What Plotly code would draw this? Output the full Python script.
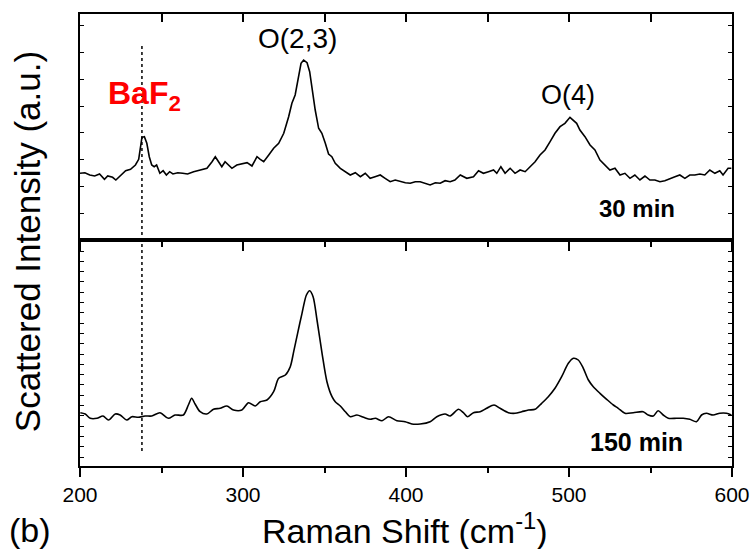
import plotly.graph_objects as go

# ---- data ----
shift_30 = [200, 203, 206, 209, 212, 215, 217, 220, 222, 225, 228, 231, 234, 236, 237, 238, 239.5, 241,
            242.5, 244, 245.5, 247, 249, 251, 253, 255, 257, 260, 263, 266, 269.7, 273.8, 277.9, 281, 283,
            285, 287, 289, 291, 293.2, 296.2, 299.3, 302.5, 305.5, 308.6, 310.6, 312.7, 315.8, 318.8, 321.9,
            325, 328, 330, 332, 334, 335.6, 337.2, 339.3, 340.9, 342.5, 344.3, 346.4, 348.4, 350.5, 352.5,
            354.5, 356.6, 359.7, 362.8, 365.8, 368.9, 372, 375, 378, 381, 384.2, 387.2, 390.3, 393.4, 396.5,
            399.6, 402.6, 405.7, 408.7, 411.8, 414.8, 418, 421, 424, 427.1, 430, 433.3, 437.3, 441.4, 444.5,
            447.5, 450.6, 453.7, 455.7, 458.2, 460.8, 463.9, 466.9, 470, 473.1, 476.1, 479.2, 482.2, 485.3,
            488.4, 491.4, 494.5, 497.5, 500.6, 502.7, 504.7, 506.7, 509.8, 512.9, 515.9, 519, 522, 525.1,
            528.2, 531.3, 534.3, 537.4, 540.4, 543.5, 546.6, 549.6, 552.7, 555.8, 558.8, 561.9, 565, 568,
            571.1, 574.1, 577.2, 580.3, 583.3, 586.4, 589.5, 592.5, 594.5, 597.6, 599.6]
intensity_30 = [66.7, 67.3, 65.0, 64.0, 66.0, 60.7, 64.0, 62.7, 60.0, 65.0, 69.3, 70.7, 75.0, 80.7, 93.3,
                102.7, 103.3, 96.7, 83.3, 75.0, 73.3, 75.0, 66.7, 69.3, 65.0, 68.3, 66.0, 67.3, 66.7, 66.0,
                68.3, 70.0, 71.7, 78.3, 83.3, 78.3, 73.3, 78.3, 75.0, 71.7, 75.0, 76.0, 77.3, 74.0, 83.3,
                80.7, 78.3, 85.0, 91.7, 96.7, 106.7, 123.3, 136.7, 145.0, 163.3, 176.7, 180.0, 177.3, 168.3,
                150.0, 130.0, 111.7, 106.7, 96.7, 86.0, 83.3, 76.7, 71.7, 68.3, 65.0, 67.3, 63.3, 66.7, 61.7,
                63.3, 65.0, 61.7, 58.3, 60.0, 58.3, 57.3, 56.7, 58.3, 58.3, 56.7, 55.0, 57.3, 56.7, 59.3,
                58.3, 60.0, 65.0, 61.7, 63.3, 69.3, 66.7, 68.3, 70.0, 66.7, 73.3, 66.7, 71.7, 66.7, 70.0,
                68.3, 73.3, 78.3, 85.0, 90.0, 98.3, 106.7, 113.3, 116.7, 122.7, 120.0, 116.7, 110.0, 103.3,
                95.0, 90.0, 80.0, 75.0, 70.0, 71.7, 65.0, 66.7, 61.7, 65.0, 60.0, 64.0, 60.0, 60.0, 58.3,
                59.3, 61.7, 63.3, 65.0, 61.7, 65.0, 65.0, 66.0, 65.0, 70.0, 66.7, 69.3, 65.0, 71.7, 71.7]

shift_150 = [200.2, 203.2, 206.3, 210.4, 214.1, 217.5, 221.6, 224.6, 228.7, 231.8, 235.8, 239.9, 244, 249.1,
             254.2, 258.3, 263.4, 266.5, 268.5, 270.6, 273.7, 277.8, 281.9, 286, 290.1, 294.2, 299.3, 303.4,
             307.5, 310.6, 314.7, 318.8, 321.9, 326, 329, 331.1, 333.5, 336.2, 338.9, 340.9, 343, 345.4,
             348.5, 351.5, 354.6, 356.6, 359.7, 362.8, 365.8, 369.9, 374, 378.1, 381.2, 385.3, 389.3, 394.4,
             399.5, 403.6, 408.7, 414.8, 418.9, 424, 427.1, 432.2, 435.2, 437.7, 441.4, 445.5, 449.5, 454,
             457.7, 462.8, 466.9, 471, 475.1, 479.2, 483.2, 487.3, 491.4, 495.5, 499.6, 502.7, 505.7, 508.8,
             511.9, 514.9, 519, 523.1, 527.2, 530.2, 534.3, 539.4, 545.5, 548.6, 551.7, 554.7, 557.8, 560.9,
             566, 570.1, 574.1, 578.2, 581.3, 584.3, 588.4, 592.5, 596.6, 599.6]
intensity_150 = [53.3, 52.0, 47.7, 47.7, 50.0, 46.0, 52.0, 51.0, 46.0, 49.3, 48.7, 50.0, 50.0, 53.3, 47.7,
                 51.0, 51.0, 61.0, 67.7, 62.0, 54.3, 52.0, 56.7, 57.7, 60.0, 56.0, 56.0, 63.3, 60.0, 64.3,
                 66.0, 74.3, 87.7, 91.0, 99.3, 114.3, 132.7, 152.7, 171.0, 175.3, 169.3, 146.0, 112.7, 84.3,
                 69.3, 64.3, 60.0, 54.3, 49.3, 51.0, 48.7, 46.7, 47.7, 45.3, 49.3, 45.3, 44.3, 42.0, 42.0,
                 44.3, 49.3, 52.0, 50.0, 56.7, 53.3, 49.3, 53.3, 54.3, 57.7, 61.0, 57.7, 53.3, 52.7, 54.3,
                 56.0, 56.7, 62.7, 69.3, 77.7, 89.3, 102.7, 107.7, 106.0, 97.7, 86.0, 79.3, 72.7, 66.7, 61.0,
                 57.7, 52.7, 53.3, 54.3, 51.0, 50.0, 55.3, 51.0, 47.7, 47.7, 47.7, 46.7, 44.3, 51.0, 52.7,
                 51.0, 52.7, 52.7, 51.0]

BAF2_POS = 238
x_range = [200, 600]
x_tick_vals = [200, 300, 400, 500, 600]
x_tick_text = ["200", "300", "400", "500", "600"]

FONT = "Liberation Sans, Arial, sans-serif"

fig = go.Figure()
fig.add_trace(go.Scatter(x=shift_30, y=intensity_30, mode="lines", xaxis="x2", yaxis="y2",
                         line=dict(color="black", width=1.6), showlegend=False, hoverinfo="skip"))
fig.add_trace(go.Scatter(x=shift_150, y=intensity_150, mode="lines", xaxis="x", yaxis="y",
                         line=dict(color="black", width=1.6, shape="spline", smoothing=0.8),
                         showlegend=False, hoverinfo="skip"))
# invisible trace to activate top-edge tick axis
fig.add_trace(go.Scatter(x=[x_range[0]], y=[None], xaxis="x3", yaxis="y2", mode="markers",
                         marker=dict(opacity=0), showlegend=False, hoverinfo="skip"))

axis_common = dict(range=x_range, showgrid=False, zeroline=False, showline=True, linecolor="black",
                   linewidth=2, tickvals=x_tick_vals, ticktext=x_tick_text, tickcolor="black",
                   tickwidth=2, automargin=False)

fig.update_layout(
    template="none",
    width=751, height=549,
    margin=dict(l=80, r=19, t=14, b=83, autoexpand=False),
    paper_bgcolor="white", plot_bgcolor="white",
    font=dict(family=FONT, color="black"),
    xaxis=dict(**axis_common, anchor="y", mirror=True, ticks="outside", ticklen=9,
               tickfont=dict(size=21, family=FONT),
               minor=dict(dtick=50, tick0=200, ticks="outside", ticklen=5, tickwidth=2,
                          tickcolor="black", showgrid=False)),
    xaxis2=dict(**axis_common, anchor="y2", mirror=True, ticks="outside", ticklen=9,
                showticklabels=False, matches="x",
                minor=dict(dtick=50, tick0=200, ticks="outside", ticklen=5, tickwidth=2,
                           tickcolor="black", showgrid=False)),
    xaxis3=dict(range=x_range, overlaying="x2", anchor="y2", side="top", showgrid=False,
                zeroline=False, showline=False, ticks="inside", ticklen=8, tickwidth=2,
                tickcolor="black", dtick=50, tick0=200, showticklabels=False, automargin=False),
    yaxis=dict(domain=[0, 0.5], range=[0, 226], showgrid=False, zeroline=False, showline=True,
               linecolor="black", linewidth=2, mirror="ticks", ticks="inside", ticklen=4,
               tickwidth=1, tickcolor="black", tick0=9, dtick=10.3, showticklabels=False,
               automargin=False),
    yaxis2=dict(domain=[0.5, 1], range=[0, 226], showgrid=False, zeroline=False, showline=True,
                linecolor="black", linewidth=2, mirror="ticks", ticks="inside", ticklen=4,
                tickwidth=1, tickcolor="black", tick0=0, dtick=26.8, showticklabels=False,
                automargin=False),
)

fig.add_shape(type="line", xref="x", yref="paper", x0=BAF2_POS, x1=BAF2_POS, y0=0.033, y1=0.936,
              line=dict(color="black", width=1.5, dash="dot"))

ann = [
    dict(text="O(2,3)", x=333.6, y=202, xref="x2", yref="y2", font=dict(size=28)),
    dict(text="O(4)", x=499.6, y=145, xref="x2", yref="y2", font=dict(size=27)),
    dict(text="<b>BaF<sub>2</sub></b>", x=239.8, y=145, xref="x2", yref="y2",
         font=dict(size=32, color="#ff0000")),
    dict(text="<b>30 min</b>", x=541.6, y=32, xref="x2", yref="y2", font=dict(size=24)),
    dict(text="<b>150 min</b>", x=541.6, y=24, xref="x", yref="y", font=dict(size=25)),
    dict(text="Raman Shift (cm<sup>-1</sup>)", x=0.498, y=-0.139, xref="paper", yref="paper",
         font=dict(size=34)),
    dict(text="(b)", x=-0.077, y=-0.141, xref="paper", yref="paper", font=dict(size=34)),
    dict(text="Scattered Intensity (a.u.)", x=-0.08, y=0.497, xref="paper", yref="paper",
         textangle=-90, font=dict(size=35)),
]
for a in ann:
    a.update(showarrow=False, xanchor="center", yanchor="middle")
    a["font"].setdefault("family", FONT)
    a["font"].setdefault("color", "black")
    fig.add_annotation(**a)

fig.write_html("out.html", config={"displayModeBar": False},
               post_script="document.body.style.margin='0';document.body.style.overflow='hidden';")
